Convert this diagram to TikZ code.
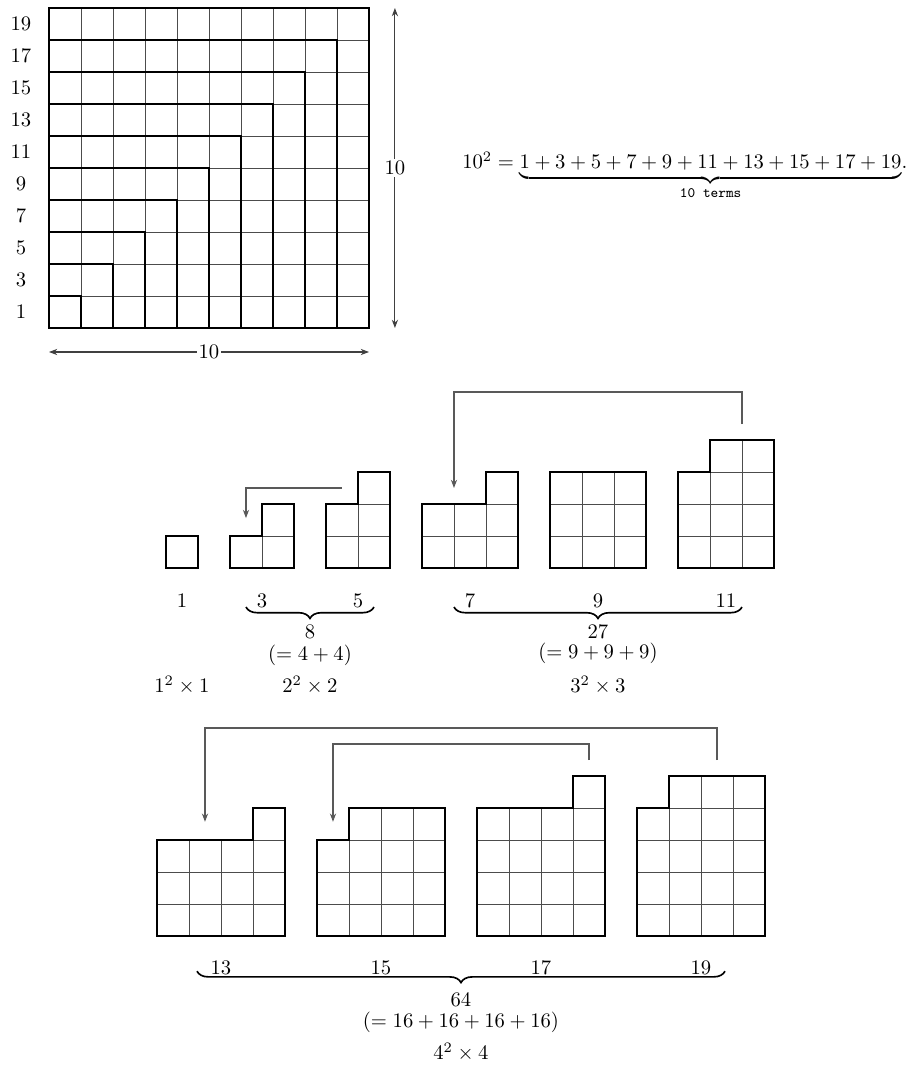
\documentclass[tikz,border=0pt]{standalone}
\usepackage{amsmath}
\usepackage{amssymb}
\usepackage{tikz}
\usetikzlibrary{arrows.meta,decorations.pathreplacing,positioning}

\begin{document}
\begin{tikzpicture}[x=15.5pt, y=15.5pt, >={Stealth[length=4pt,width=3pt]}, font=\normalsize]

        \tikzset{
            cellgrid/.style={draw=black!70, line width=0.4pt, step=1},
            outline/.style={draw=black, line width=1.4pt, line join=miter},
            dimarrow/.style={<->, draw=black!75, line width=0.5pt},
            link/.style={->, draw=black!65, line width=0.5pt},
            sumbrace/.style={decorate, decoration={brace, mirror, amplitude=5.5pt}, line width=0.8pt},
            dimlabel/.style={fill=white, inner sep=1pt}
        }

        \useasboundingbox (-1.531,-23.125) rectangle (27,10.25);


        \draw[cellgrid] (0,0) grid (10,10);
        \foreach \k in {1,...,10} {
            \pgfmathtruncatemacro{\oddnum}{2*\k-1}
            \draw[outline] (0,\k) -| (\k,0);
            \node (row\k) at (-0.875,\k-0.5) {$\oddnum$};
        }
        \draw[outline] (0,0) rectangle (10,10);


        \coordinate (dimL) at (0,-0.75);
        \coordinate (dimR) at (10,-0.75);
        \coordinate (dimB) at (10.81,0);
        \coordinate (dimT) at (10.81,10);
        \draw[dimarrow] (dimL) -- node[dimlabel] (wlabel) {10} (dimR);
        \draw[dimarrow] (dimB) -- node[dimlabel] (hlabel) {10} (dimT);


        \node[anchor=base] (sumeq) at (19.87,4.97) {$10^2 = {\underbrace{1+3+5+7+9+11+13+15+17+19}_{\text{\texttt{10 terms}}}}.$};


        % pieces: left / bottom / width / height / first column of top strip
        \foreach \px/\py/\w/\h/\c in {3.656/-7.5/1/0/0, 5.656/-7.5/2/1/1, 8.656/-7.5/2/2/1, 11.656/-7.5/3/2/2, 15.656/-7.5/3/2/0, 19.656/-7.5/3/3/1, 3.375/-19/4/3/3, 8.375/-19/4/3/1, 13.375/-19/4/4/3, 18.375/-19/4/4/1} {
            \begin{scope}[shift={(\px,\py)}]
                \draw[cellgrid] (0,0) grid (\w,\h);
                \draw[cellgrid] (\c,\h) grid (\w,\h+1);
                \draw[outline] (0,0) -- (\w,0) -- (\w,\h+1) -- (\c,\h+1) -- (\c,\h) -- (0,\h) -- cycle;
            \end{scope}
        }


        \node (n1) at (4.156,-8.53) {$1$};
        \node (n3) at (6.656,-8.53) {$3$};
        \node (n5) at (9.656,-8.53) {$5$};
        \node (n7) at (13.156,-8.53) {$7$};
        \node (n9) at (17.156,-8.53) {$9$};
        \node (n11) at (21.156,-8.53) {$11$};

        \draw[sumbrace] (6.156,-8.72) -- (10.156,-8.72);
        \draw[sumbrace] (12.656,-8.72) -- (21.656,-8.72);

        \node (sum8) at (8.156,-9.5) {$8$};
        \node (split8) at (8.156,-10.22) {$(=4+4)$};
        \node (sum27) at (17.156,-9.5) {$27$};
        \node (split27) at (17.156,-10.18) {$(=9+9+9)$};

        \node (form1) at (4.156,-11.17) {$1^2\times 1$};
        \node (form2) at (8.156,-11.17) {$2^2\times 2$};
        \node (form3) at (17.156,-11.17) {$3^2\times 3$};


        \node (n13) at (5.375,-20) {$13$};
        \node (n15) at (10.375,-20) {$15$};
        \node (n17) at (15.375,-20) {$17$};
        \node (n19) at (20.375,-20) {$19$};

        \draw[sumbrace] (4.625,-20.1) -- (21.125,-20.1);

        \node (sum64) at (12.875,-21.0) {$64$};
        \node (split64) at (12.875,-21.7) {$(=16+16+16+16)$};
        \node (form4) at (12.875,-22.63) {$4^2\times 4$};


        \coordinate (from5) at (9.156,-5.0);
        \coordinate (to3) at (6.156,-5.94);
        \coordinate (from11) at (21.656,-3.0);
        \coordinate (to7) at (12.656,-5.0);
        \draw[link] (from5) -| (to3);
        \draw[link] (from11) -- ++(0,1) -| (to7);

        \coordinate (from19) at (20.875,-13.5);
        \coordinate (to13) at (4.875,-15.43);
        \coordinate (from17) at (16.875,-13.5);
        \coordinate (to15) at (8.875,-15.43);
        \draw[link] (from19) -- ++(0,1) -| (to13);
        \draw[link] (from17) -- ++(0,0.5) -| (to15);

    \end{tikzpicture}
\end{document}
